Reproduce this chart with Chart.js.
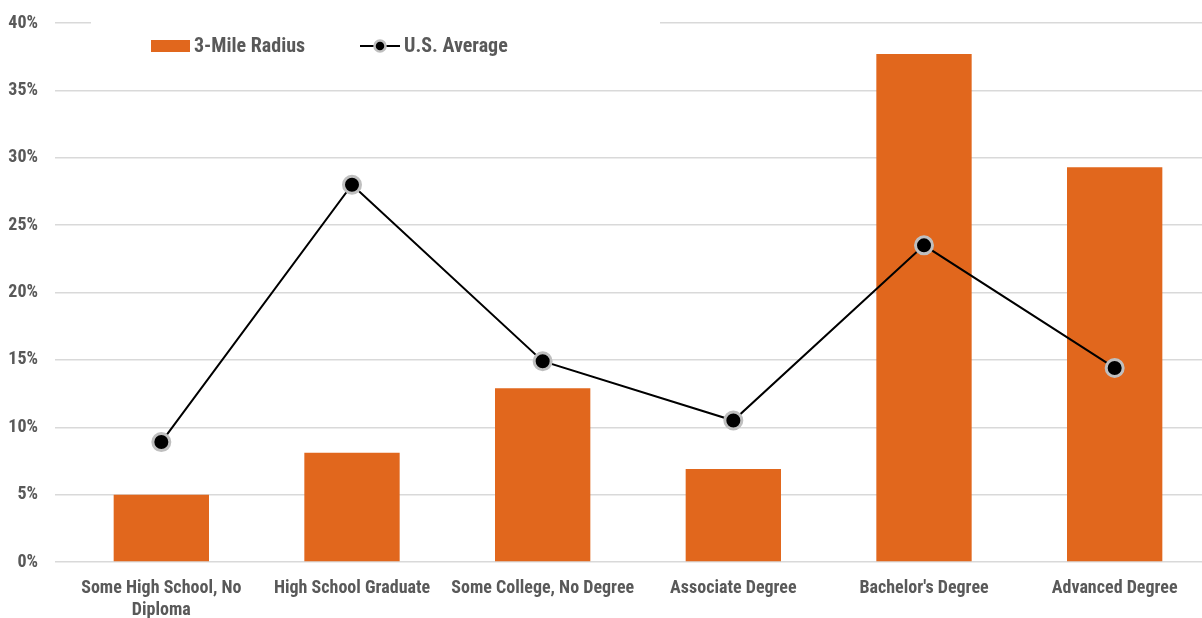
<!DOCTYPE html>
<html>
<head>
<meta charset="utf-8">
<script src="https://cdn.jsdelivr.net/npm/chart.js@4/dist/chart.umd.min.js"></script>
<style>
  html, body { margin: 0; padding: 0; background: #fff; overflow: hidden; }
  canvas { display: block; }
</style>
</head>
<body>
<canvas id="chart" width="1212" height="618"></canvas>
<script>
// Educational attainment: share of adults 25+ by highest level reached
const categories = [
  ["Some High School, No", "Diploma"],
  "High School Graduate",
  "Some College, No Degree",
  "Associate Degree",
  "Bachelor's Degree",
  "Advanced Degree"
];
const radiusShare = [5.0, 8.1, 12.9, 6.9, 37.7, 29.3];   // 3-Mile Radius (%)
const usAverage   = [8.9, 28.0, 14.9, 10.5, 23.5, 14.4]; // U.S. Average (%)
const yTicks = [0, 5, 10, 15, 20, 25, 30, 35, 40];

const FONT = '"Roboto Condensed", Roboto, "Open Sans", sans-serif';
const WEIGHT = 'bold condensed';
const TEXT = '#595959';
const ORANGE = '#E1671D';
const GRID = '#D9D9D9';

// Legend drawn inside the plot, on a white band over the top gridline
const insideLegend = {
  id: 'insideLegend',
  beforeDatasetsDraw(chart) {
    const ctx = chart.ctx;
    ctx.save();
    ctx.fillStyle = '#fff';
    ctx.fillRect(91, 12, 569, 22);

    ctx.font = WEIGHT + ' 20px ' + FONT;
    ctx.textBaseline = 'middle';
    ctx.textAlign = 'left';

    // bar swatch
    ctx.fillStyle = ORANGE;
    ctx.fillRect(151, 40, 39, 12);
    ctx.fillStyle = TEXT;
    ctx.fillText(chart.data.datasets[0].label, 194, 47);

    // line swatch
    ctx.strokeStyle = '#000';
    ctx.lineWidth = 2;
    ctx.beginPath();
    ctx.moveTo(360, 46);
    ctx.lineTo(400, 46);
    ctx.stroke();
    ctx.beginPath();
    ctx.arc(380, 46, 5.5, 0, Math.PI * 2);
    ctx.fillStyle = '#000';
    ctx.fill();
    ctx.lineWidth = 2.5;
    ctx.strokeStyle = '#BFBFBF';
    ctx.stroke();
    ctx.fillStyle = TEXT;
    ctx.fillText(chart.data.datasets[1].label, 404, 47);
    ctx.restore();
  }
};

new Chart(document.getElementById('chart'), {
  data: {
    labels: categories,
    datasets: [
      {
        type: 'bar',
        label: '3-Mile Radius',
        data: radiusShare,
        backgroundColor: ORANGE,
        categoryPercentage: 1,
        barPercentage: 0.5,
        order: 1
      },
      {
        type: 'line',
        label: 'U.S. Average',
        data: usAverage,
        borderColor: '#000',
        borderWidth: 2,
        pointRadius: 8.5,
        pointBorderWidth: 3,
        pointBackgroundColor: '#000',
        pointBorderColor: '#BFBFBF',
        tension: 0,
        order: 0
      }
    ]
  },
  options: {
    responsive: false,
    animation: false,
    layout: { autoPadding: false, padding: { top: 0, right: 2, bottom: 0, left: 0 } },
    plugins: {
      legend: { display: false },
      tooltip: { enabled: false },
      title: { display: false }
    },
    scales: {
      x: {
        grid: { display: false, drawTicks: false },
        border: { display: false },
        ticks: {
          color: TEXT,
          font: { family: FONT, size: 18, weight: WEIGHT, lineHeight: 1.22 },
          padding: 16,
          maxRotation: 0,
          autoSkip: false
        },
        afterFit(scale) { scale.height = 56; }
      },
      y: {
        min: 0,
        max: 40,
        afterBuildTicks(scale) { scale.ticks = yTicks.map(v => ({ value: v })); },
        grid: { color: GRID, lineWidth: 1.5, tickLength: 11, drawTicks: true },
        border: { display: false },
        ticks: {
          color: TEXT,
          font: { family: FONT, size: 18, weight: WEIGHT },
          padding: 17,
          callback: v => v + '%'
        },
        afterFit(scale) { scale.width = 66; scale.paddingTop = 23; }
      }
    }
  },
  plugins: [insideLegend]
});
</script>
</body>
</html>
